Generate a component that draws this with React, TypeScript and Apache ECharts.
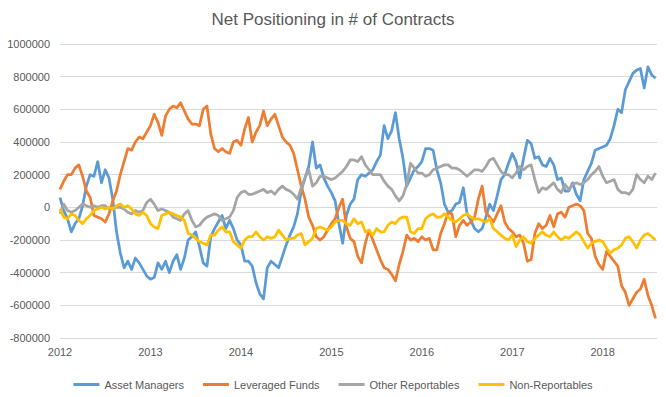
import React, { useEffect, useRef } from "react";
import * as echarts from "echarts";

const TITLE = "Net Positioning in # of Contracts";
const SERIES_NAMES = ["Asset Managers", "Leveraged Funds", "Other Reportables", "Non-Reportables"];
const SERIES_COLORS = ["#5B9BD5", "#ED7D31", "#A5A5A5", "#FFC000"];
const START_YEAR = 2012;
const PERIODS_PER_YEAR = 24; // semi-monthly readings
const Y_MIN = -800000;
const Y_MAX = 1000000;
const Y_STEP = 200000;
const X_MIN = 2012;
const X_MAX = 2018.6;

// values in thousands of contracts (semi-monthly from Jan 2012)
const assetManagers = [
  60, -20, -70, -150, -100, -70, 10, 130, 200, 190,
  280, 150, 230, 180, 50, -150, -280, -370, -330, -380,
  -310, -340, -380, -420, -440, -430, -340, -380, -330, -400,
  -330, -290, -380, -310, -200, -180, -150, -240, -340, -360,
  -180, -130, -90, -50, -130, -80, -130, -200, -230, -330,
  -330, -360, -460, -530, -560, -370, -330, -350, -370, -300,
  -230, -170, -120, -40, 100, 180, 250, 400, 240, 260,
  180, 130, 90, 40, -100, -220, -50, 20, 50, 170,
  200, 190, 210, 230, 280, 320, 500, 420, 470, 580,
  420, 300, 130, 180, 230, 250, 280, 360, 360, 350,
  230, 150, 20, -30, -20, 20, 30, 120, -40, -80,
  -130, -150, -130, -60, 20, -20, 70, 170, 200, 270,
  330, 280, 180, 300, 410, 390, 300, 310, 260, 250,
  300, 260, 170, 180, 100, 100, 150, 80, 40, 170,
  220, 270, 350, 360, 370, 380, 420, 500, 600, 580,
  720, 770, 820, 840, 850, 730, 860, 810, 790,
];

const leveragedFunds = [
  110, 160, 200, 200, 240, 260, 190, 100, 60, -50,
  -60, -70, -90, -40, 40, 100, 200, 280, 360, 350,
  400, 430, 420, 460, 500, 570, 520, 440, 560, 600,
  620, 610, 640, 590, 540, 510, 510, 500, 600, 620,
  450, 360, 340, 360, 340, 330, 400, 410, 380, 480,
  550, 400, 460, 500, 590, 500, 540, 570, 500, 430,
  400, 380, 330, 230, 130, 50, -60, -110, -180, -200,
  -180, -140, -100, -70, 0, 50, -120, -190, -210, -300,
  -340, -220, -140, -200, -260, -320, -370, -380, -410, -450,
  -350, -270, -170, -200, -190, -210, -180, -200, -190, -260,
  -260, -160, -100, -30, -40, -180, -110, -80, -110, -90,
  -60, 50, 130, -30, -60, -90, -40, 10, -90, -130,
  -150, -180, -170, -220, -330, -320, -160, -100, -130, -110,
  -50, -120, -40, -30, -60, 0, 10, 20, 10, -20,
  -160, -190, -300, -350, -380, -270, -300, -330, -360, -480,
  -520, -600, -560, -520, -500, -440, -540, -600, -680,
];

const otherReportables = [
  -40, 20, -20, -30, -20, 0, 20, 10, 0, 10,
  0, 10, 10, -10, -10, 0, 0, -10, -30, -40,
  -20, -30, -20, 30, 50, 20, -20, -10, -20, -30,
  -60, -70, -80, -40, -20, -80, -120, -110, -80, -60,
  -50, -40, -50, -80, -70, -60, -20, 60, 90, 100,
  80, 80, 90, 100, 110, 90, 100, 80, 110, 130,
  110, 100, 80, 50, 120, 180, 230, 130, 150, 190,
  190, 180, 170, 180, 200, 220, 250, 290, 290, 280,
  310, 260, 230, 200, 200, 200, 160, 130, 110, 70,
  40, 70, 140, 270, 240, 210, 210, 190, 200, 230,
  240, 250, 260, 260, 240, 240, 230, 210, 190, 210,
  230, 230, 220, 250, 290, 300, 260, 220, 200, 200,
  180, 210, 250, 230, 250, 260, 170, 90, 120, 110,
  130, 150, 110, 90, 140, 110, 140, 150, 140, 150,
  170, 200, 220, 250, 190, 150, 160, 170, 110, 90,
  90, 80, 110, 200, 170, 150, 190, 170, 210,
];

const nonReportables = [
  -10, -60, -70, -40, -50, -80, -100, -70, -50, -20,
  -10, 0, -10, 0, -10, 10, 20, 0, 10, -10,
  -40, -50, -30, -50, -100, -120, -130, -50, -40, -30,
  -40, -50, -60, -80, -160, -170, -190, -210, -220, -230,
  -170, -170, -140, -120, -150, -150, -210, -230, -250, -200,
  -180, -180, -150, -180, -200, -180, -190, -180, -140, -170,
  -200, -190, -190, -170, -160, -230, -210, -190, -130, -120,
  -130, -140, -120, -90, -80, -80, -100, -110, -70, -100,
  -90, -150, -140, -170, -130, -150, -150, -110, -90, -100,
  -70, -60, -60, -150, -160, -130, -130, -70, -50, -40,
  -60, -60, -40, -60, -80, -90, -70, -50, -40, -60,
  -70, -70, -80, -90, -70, -130, -150, -170, -190, -200,
  -170, -240, -200, -180, -210, -220, -190, -170, -150, -170,
  -180, -150, -180, -200, -180, -190, -170, -150, -170, -210,
  -250, -220, -210, -200, -210, -250, -280, -260, -250, -230,
  -190, -180, -210, -250, -200, -170, -160, -180, -200,
];

const SERIES_VALUES = [assetManagers, leveragedFunds, otherReportables, nonReportables];

const FONT = "'Liberation Sans', Arial, sans-serif";
const TEXT_COLOR = "#595959";
const GRID_COLOR = "#D9D9D9";

export default function App() {
  const ref = useRef<HTMLDivElement>(null);

  useEffect(() => {
    document.body.style.margin = "0";
    const chart = echarts.init(ref.current!, null, { renderer: "svg" });
    const times = assetManagers.map((_, i) => START_YEAR + i / PERIODS_PER_YEAR);

    chart.setOption({
      animation: false,
      backgroundColor: "#FFFFFF",
      textStyle: { fontFamily: FONT },
      title: {
        text: TITLE,
        left: "center",
        top: 6,
        textStyle: { fontSize: 17, fontWeight: "normal", color: TEXT_COLOR, fontFamily: FONT },
      },
      legend: {
        data: SERIES_NAMES,
        left: "center",
        top: 374,
        icon: "rect",
        itemWidth: 26,
        itemHeight: 3,
        itemGap: 19,
        textStyle: { fontSize: 11, color: TEXT_COLOR, fontFamily: FONT },
      },
      grid: { left: 60, right: 9, top: 44, bottom: 59, containLabel: false },
      xAxis: {
        type: "value",
        min: X_MIN,
        max: X_MAX,
        interval: 1,
        axisLine: { show: true, lineStyle: { color: GRID_COLOR, width: 1 } },
        axisTick: { show: false },
        splitLine: { show: false },
        axisLabel: {
          color: TEXT_COLOR,
          fontSize: 11,
          fontFamily: FONT,
          margin: 8,
          showMaxLabel: false,
          formatter: (v: number) => (Math.abs(v - Math.round(v)) < 1e-6 ? String(Math.round(v)) : ""),
        },
      },
      yAxis: {
        type: "value",
        min: Y_MIN,
        max: Y_MAX,
        interval: Y_STEP,
        axisLine: { show: false },
        axisTick: { show: false },
        splitLine: { show: true, lineStyle: { color: GRID_COLOR, width: 1 } },
        axisLabel: {
          color: TEXT_COLOR,
          fontSize: 11,
          fontFamily: FONT,
          margin: 10,
          formatter: (v: number) => String(v),
        },
      },
      series: SERIES_NAMES.map((name, si) => ({
        name,
        type: "line",
        showSymbol: false,
        symbol: "none",
        color: SERIES_COLORS[si],
        lineStyle: { width: 2.75, color: SERIES_COLORS[si], join: "round" },
        data: SERIES_VALUES[si].map((v, i) => [times[i], v * 1000]),
      })),
    });

    return () => chart.dispose();
  }, []);

  return <div ref={ref} style={{ width: 666, height: 397 }} />;
}
